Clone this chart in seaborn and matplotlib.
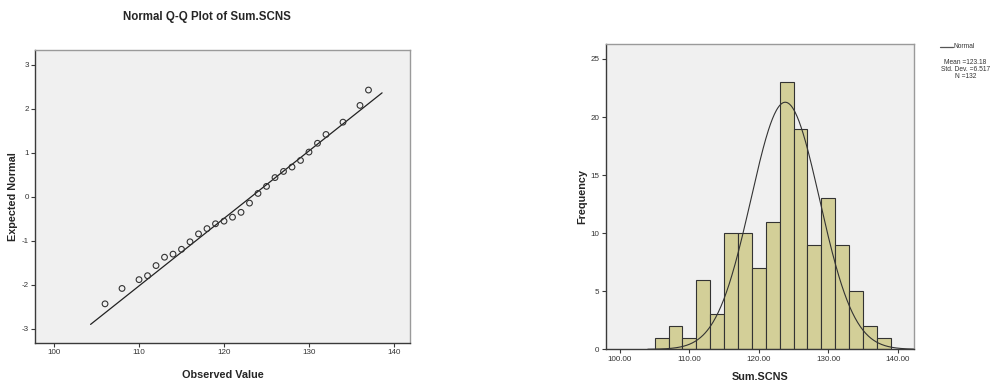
import numpy as np
import pandas as pd
import matplotlib
matplotlib.use("Agg")
import matplotlib.pyplot as plt
import seaborn as sns

# ---------------- data ----------------
qq_observed = [106, 108, 110, 111, 112, 113, 114, 115, 116, 117, 118, 119, 120, 121,
               122, 123, 124, 125, 126, 127, 128, 129, 130, 131, 132, 134, 136, 137]
qq_expected = [-2.43, -2.08, -1.88, -1.79, -1.56, -1.37, -1.30, -1.19, -1.02, -0.84,
               -0.72, -0.61, -0.55, -0.46, -0.35, -0.14, 0.08, 0.24, 0.44, 0.58,
               0.68, 0.83, 1.02, 1.22, 1.42, 1.70, 2.08, 2.43]
qq_line_x = [104.3, 138.6]
mean_val = 123.18
sd_val = 6.517
n_val = 132

bin_edges = [105, 107, 109, 111, 113, 115, 117, 119, 121, 123, 125, 127, 129, 131, 133, 135, 137, 139]
bin_counts = [1, 2, 1, 6, 3, 10, 10, 7, 11, 23, 19, 9, 13, 9, 5, 2, 1]
curve_mean = 123.8
curve_sd = 4.95
curve_range = [104.0, 142.3]

qq_xticks = [100, 110, 120, 130, 140]
qq_yticks = [-3, -2, -1, 0, 1, 2, 3]
hist_xticks = [100, 110, 120, 130, 140]
hist_xticklabels = ["100.00", "110.00", "120.00", "130.00", "140.00"]
hist_yticks = [0, 5, 10, 15, 20, 25]

# ---------------- style ----------------
sns.set_theme(style="ticks")
plt.rcParams['font.family'] = ['Liberation Sans Narrow', 'Liberation Sans', 'DejaVu Sans']
plt.rcParams['axes.unicode_minus'] = False

BG = "#f0f0f0"
DARK = "#3a3a3a"
LIGHT = "#9a9a9a"
BAR = "#d3cf98"
WIDE = ['Liberation Sans', 'DejaVu Sans']

fig = plt.figure(figsize=(10.03, 3.85), dpi=100)
fig.patch.set_facecolor("white")

def style_axes(ax):
    ax.set_facecolor(BG)
    for s in ["left", "bottom"]:
        ax.spines[s].set_color(DARK)
        ax.spines[s].set_linewidth(1.0)
    for s in ["top", "right"]:
        ax.spines[s].set_color(LIGHT)
        ax.spines[s].set_linewidth(1.0)
    ax.tick_params(axis="both", direction="out", length=3, width=0.8,
                   color=DARK, labelsize=5.8, labelcolor="#333333", pad=1.5)

# ---------------- Q-Q plot ----------------
ax1 = fig.add_axes([0.0349, 0.1091, 0.4089 - 0.0349, 0.8701 - 0.1091])
style_axes(ax1)
line_df = pd.DataFrame({"x": qq_line_x,
                        "y": [(v - mean_val) / sd_val for v in qq_line_x]})
sns.lineplot(data=line_df, x="x", y="y", ax=ax1, color="#222222", linewidth=0.9)
qq_df = pd.DataFrame({"obs": qq_observed, "exp": qq_expected})
sns.scatterplot(data=qq_df, x="obs", y="exp", ax=ax1, marker="o", s=17,
                facecolor="none", edgecolor="#333333", linewidth=0.8, zorder=3)
ax1.set_xlim(97.76, 141.9)
ax1.set_ylim(-3.32, 3.34)
ax1.set_xticks(qq_xticks)
ax1.set_yticks(qq_yticks)
ax1.set_xlabel("Observed Value", fontsize=7.8, fontweight="bold", family=WIDE)
ax1.xaxis.set_label_coords(0.5, -0.093)
ax1.set_ylabel("Expected Normal", fontsize=7.8, fontweight="bold", family=WIDE)
ax1.yaxis.set_label_coords(-0.0445, 0.5)
fig.text(0.2063, 0.955, "Normal Q-Q Plot of Sum.SCNS", ha="center", va="center",
         fontsize=8.3, fontweight="bold")

# ---------------- Histogram ----------------
ax2 = fig.add_axes([0.6039, 0.0927, 0.9113 - 0.6039, 0.8857 - 0.0927])
style_axes(ax2)
centers = [(bin_edges[i] + bin_edges[i + 1]) / 2 for i in range(len(bin_counts))]
hist_df = pd.DataFrame({"x": centers, "w": bin_counts})
sns.histplot(data=hist_df, x="x", weights="w", bins=bin_edges, ax=ax2,
             color=BAR, alpha=1.0, edgecolor="#333333", linewidth=0.8)
bw = bin_edges[1] - bin_edges[0]
xs = np.linspace(curve_range[0], curve_range[1], 400)
ys = n_val * bw / (curve_sd * np.sqrt(2 * np.pi)) * np.exp(-0.5 * ((xs - curve_mean) / curve_sd) ** 2)
sns.lineplot(x=xs, y=ys, ax=ax2, color="#333333", linewidth=0.8)
ax2.set_xlim(97.94, 142.35)
ax2.set_ylim(0, 26.29)
ax2.set_xticks(hist_xticks)
ax2.set_xticklabels(hist_xticklabels)
ax2.set_yticks(hist_yticks)
ax2.set_xlabel("Sum.SCNS", fontsize=7.8, fontweight="bold", family=WIDE)
ax2.xaxis.set_label_coords(0.5, -0.073)
ax2.set_ylabel("Frequency", fontsize=7.8, fontweight="bold", family=WIDE)
ax2.yaxis.set_label_coords(-0.061, 0.5)

# ---------------- legend ----------------
fig.add_artist(matplotlib.lines.Line2D([0.9372, 0.9502], [0.878, 0.878],
                                       color="#555555", linewidth=0.9,
                                       transform=fig.transFigure))
lfont = dict(fontsize=4.8, color="#333333", family=WIDE)
fig.text(0.9506, 0.878, "Normal", ha="left", va="center", **lfont)
fig.text(0.9625, 0.838, "Mean =%.2f" % mean_val, ha="center", va="center", **lfont)
fig.text(0.9625, 0.820, "Std. Dev. =%.3f" % sd_val, ha="center", va="center", **lfont)
fig.text(0.9625, 0.802, "N =%d" % n_val, ha="center", va="center", **lfont)

fig.savefig("out.png", dpi=100, facecolor="white")
